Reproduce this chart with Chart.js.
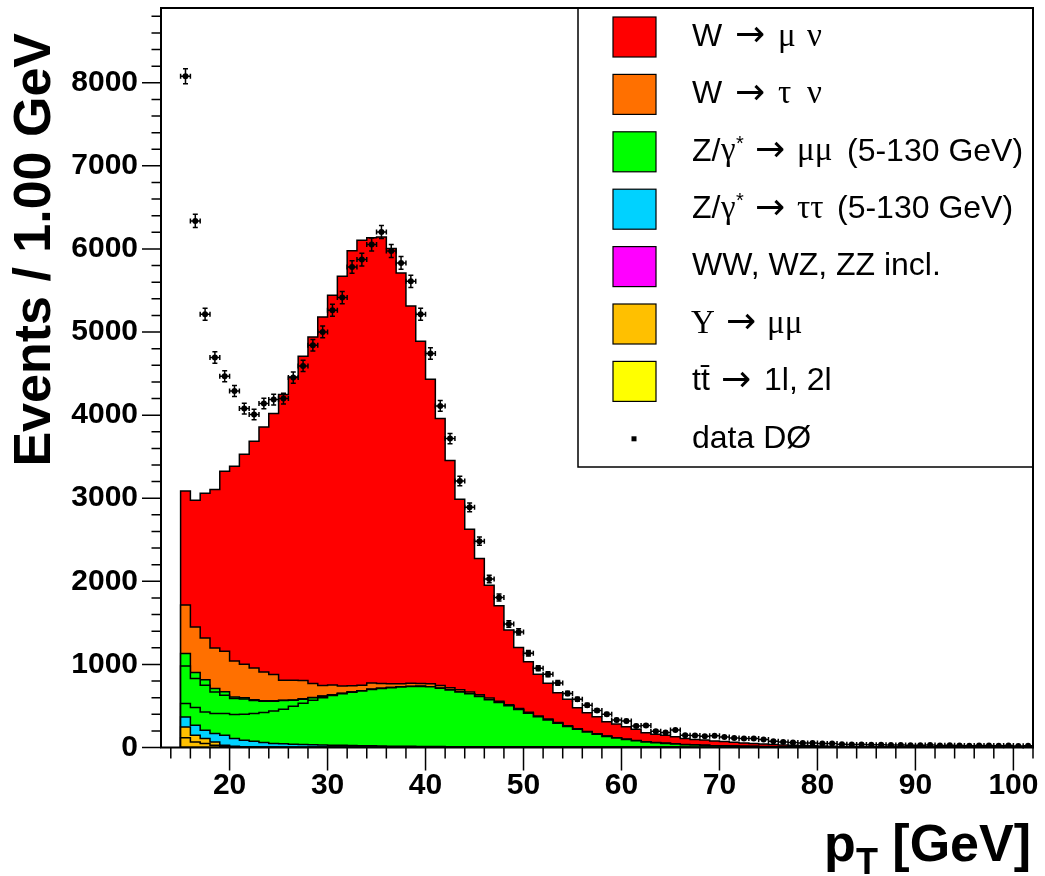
<!DOCTYPE html>
<html><head><meta charset="utf-8">
<script src="https://cdn.jsdelivr.net/npm/chart.js@4.4.0/dist/chart.umd.min.js"></script>
<style>html,body{margin:0;padding:0;background:#fff}canvas{display:block}</style>
</head><body>
<canvas id="c" width="1045" height="876"></canvas>
<script>
// ---- data (bins of 1 GeV, low edges 15..101), rows of 10 bins ----
const binLowEdges = [15,16,17,18,19,20,21,22,23,24,
  25,26,27,28,29,30,31,32,33,34,
  35,36,37,38,39,40,41,42,43,44,
  45,46,47,48,49,50,51,52,53,54,
  55,56,57,58,59,60,61,62,63,64,
  65,66,67,68,69,70,71,72,73,74,
  75,76,77,78,79,80,81,82,83,84,
  85,86,87,88,89,90,91,92,93,94,
  95,96,97,98,99,100,101];
const binWidth = 1;

const ttbar = [0,0,0,0,0,0,0,0,0,0,
  0,0,0,1,1,1,1,1,1,1,
  1,1,1,1,1,1,1,1,1,1,
  1,1,1,1,1,1,1,1,1,1,
  1,1,1,1,1,1,1,1,1,1,
  1,0,0,0,0,0,0,0,0,0,
  0,0,0,0,0,0,0,0,0,0,
  0,0,0,0,0,0,0,0,0,0,
  0,0,0,0,0,0,0];
const diboson = [0,0,0,0,0,0,0,1,1,1,
  1,1,1,1,1,1,1,1,1,1,
  1,1,1,1,1,1,1,1,1,1,
  1,1,1,1,1,1,1,1,1,1,
  1,1,1,1,1,1,1,1,1,1,
  1,1,1,1,1,1,0,0,0,0,
  0,0,0,0,0,0,0,0,0,0,
  0,0,0,0,0,0,0,0,0,0,
  0,0,0,0,0,0,0];
const upsilonA = [116,67,48,28,16,8,5,3,2,2,
  1,1,0,0,0,0,0,0,0,0,
  0,0,0,0,0,0,0,0,0,0,
  0,0,0,0,0,0,0,0,0,0,
  0,0,0,0,0,0,0,0,0,0,
  0,0,0,0,0,0,0,0,0,0,
  0,0,0,0,0,0,0,0,0,0,
  0,0,0,0,0,0,0,0,0,0,
  0,0,0,0,0,0,0];
const upsilonB = [132,81,60,39,12,8,5,4,3,2,
  2,2,1,1,1,1,1,1,1,1,
  0,0,0,0,0,0,0,0,0,0,
  0,0,0,0,0,0,0,0,0,0,
  0,0,0,0,0,0,0,0,0,0,
  0,0,0,0,0,0,0,0,0,0,
  0,0,0,0,0,0,0,0,0,0,
  0,0,0,0,0,0,0,0,0,0,
  0,0,0,0,0,0,0];
const zTauTau = [120,120,100,101,120,92,78,68,54,43,
  40,36,33,30,27,24,23,21,19,17,
  15,13,13,12,11,10,9,8,7,7,
  6,5,5,4,4,3,3,3,2,2,
  2,2,2,1,1,1,1,1,1,1,
  1,1,0,0,0,0,0,0,0,0,
  0,0,0,0,0,0,0,0,0,0,
  0,0,0,0,0,0,0,0,0,0,
  0,0,0,0,0,0,0];
const zMuMuA = [161,213,220,241,261,289,312,334,360,392,
  416,455,499,537,570,598,620,640,657,679,
  693,705,714,720,722,719,702,681,660,637,
  605,569,534,495,450,406,364,327,287,249,
  216,184,155,130,110,92,77,64,54,45,
  38,32,28,24,20,17,15,13,11,10,
  9,8,7,6,5,5,4,4,3,3,
  3,2,2,2,2,2,2,2,1,1,
  1,1,1,1,1,1,1];
const zMuMuB = [453,349,322,260,220,193,185,155,136,116,
  105,73,48,30,17,8,5,3,2,1,
  1,1,1,1,1,1,1,0,0,0,
  0,0,0,0,0,0,0,0,0,0,
  0,0,0,0,0,0,0,0,0,0,
  0,0,0,0,0,0,0,0,0,0,
  0,0,0,0,0,0,0,0,0,0,
  0,0,0,0,0,0,0,0,0,0,
  0,0,0,0,0,0,0];
const zMuMuC = [149,72,64,41,43,19,13,9,7,6,
  5,4,4,3,2,2,2,1,1,1,
  1,1,0,0,0,0,0,0,0,0,
  0,0,0,0,0,0,0,0,0,0,
  0,0,0,0,0,0,0,0,0,0,
  0,0,0,0,0,0,0,0,0,0,
  0,0,0,0,0,0,0,0,0,0,
  0,0,0,0,0,0,0,0,0,0,
  0,0,0,0,0,0,0];
const wTauNu = [585,549,505,489,487,433,404,384,347,316,
  240,236,219,167,126,117,88,75,67,75,
  58,46,36,38,35,34,32,28,26,23,
  21,19,17,15,14,12,11,10,9,8,
  7,6,5,4,4,3,3,2,2,2,
  2,2,2,1,1,1,1,1,1,1,
  1,1,1,1,1,1,1,1,1,1,
  1,1,1,1,1,1,1,1,1,1,
  1,1,1,1,1,1,1];
const wMuNu = [1370,1525,1741,1907,2166,2343,2528,2728,2948,3141,
  3438,3652,3903,4171,4437,4691,4931,5234,5357,5358,
  5375,5237,4946,4542,4119,3667,3214,2736,2294,1959,
  1641,1359,1147,897,734,608,503,430,358,321,
  252,224,206,172,165,152,136,109,99,96,
  87,73,66,63,55,52,48,41,36,31,
  26,22,19,16,14,11,10,8,7,6,
  5,5,5,4,4,3,3,2,3,3,
  2,2,2,1,1,1,1];
const dataD0 = [8078,6337,5214,4693,4468,4291,4079,4007,4140,4188,
  4200,4452,4592,4841,5001,5262,5415,5783,5872,6053,
  6205,5976,5832,5610,5214,4741,4111,3718,3208,2890,
  2483,2029,1805,1487,1391,1135,954,882,777,650,
  581,509,445,401,332,320,260,265,196,180,
  212,148,144,136,140,126,114,108,108,96,
  76,67,60,55,55,48,48,40,36,35,
  33,32,30,31,28,27,29,25,26,24,
  22,25,23,20,24,18,20];

const yTickLabels = [0,1000,2000,3000,4000,5000,6000,7000,8000];
const xTickLabels = [20,30,40,50,60,70,80,90,100];

const legendColors = ['#FF0000','#FF7000','#00FF00','#00D2FF','#FF00FF','#FFC000','#FFFF00', null];
// runs: [text, font kind, x start]
const legendLabels = [
  [['W','s',692],['\u2192','a',735],['\u03BC','g',778],['\u03BD','g',807]],
  [['W','s',692],['\u2192','a',735],['\u03C4','g',778],['\u03BD','g',807]],
  [['Z/','s',692],['\u03B3','g',721],['*','sup',736],['\u2192','a',755],['\u03BC\u03BC','g',797],['(5-130 GeV)','s',847]],
  [['Z/','s',692],['\u03B3','g',721],['*','sup',736],['\u2192','a',755],['\u03C4\u03C4','g',797],['(5-130 GeV)','s',837]],
  [['WW, WZ, ZZ incl.','s',692]],
  [['\u03A5','g',691],['\u2192','a',726],['\u03BC\u03BC','g',767]],
  [['tt\u0304','s',692],['\u2192','a',721],['1l, 2l','s',764]],
  [['data D\u00D8','s',692]]
];

// ---- build stacked (cumulative) step histograms ----
const N = binLowEdges.length;
const layers = [
  {name: 'ttbar', data: ttbar, color: '#FFFF00'},
  {name: 'diboson', data: diboson, color: '#FF00FF'},
  {name: 'upsilonA', data: upsilonA, color: '#FFC000'},
  {name: 'upsilonB', data: upsilonB, color: '#FFC000'},
  {name: 'zTauTau', data: zTauTau, color: '#00D2FF'},
  {name: 'zMuMuA', data: zMuMuA, color: '#00FF00'},
  {name: 'zMuMuB', data: zMuMuB, color: '#00FF00'},
  {name: 'zMuMuC', data: zMuMuC, color: '#00FF00'},
  {name: 'wTauNu', data: wTauNu, color: '#FF7000'},
  {name: 'wMuNu', data: wMuNu, color: '#FF0000'}
];

let cum = new Array(N).fill(0);
const datasets = [];
layers.forEach((L, i) => {
  cum = cum.map((c, k) => c + (L.data[k] || 0));
  const pts = [{x: binLowEdges[0], y: 0}];
  for (let k = 0; k < N; k++) {
    pts.push({x: binLowEdges[k], y: cum[k]});
    pts.push({x: binLowEdges[k] + binWidth, y: cum[k]});
  }
  pts.push({x: binLowEdges[N-1] + binWidth, y: 0});
  datasets.push({type: 'line', label: L.name, data: pts, borderColor: '#000', borderWidth: 1.5,
    backgroundColor: L.color, fill: 'origin', pointRadius: 0, tension: 0, order: i + 1});
});
datasets.push({type: 'scatter', label: 'data', data: dataD0.map((v, k) => ({x: binLowEdges[k] + binWidth / 2, y: v})),
  pointRadius: 3, pointStyle: 'circle', backgroundColor: '#000', borderColor: '#000', borderWidth: 0, order: 0, showLine: false});

const SANS = '"Liberation Sans", Arial, Helvetica, sans-serif';
const SERIF = '"Liberation Serif", "DejaVu Serif", serif';
const ARROW = '"DejaVu Sans", sans-serif';

const rootStyle = {
  id: 'rootStyle',
  afterDatasetsDraw(chart) {
    const ctx = chart.ctx, xs = chart.scales.x, ys = chart.scales.y;
    ctx.save();
    ctx.strokeStyle = '#000'; ctx.lineWidth = 1.5;
    ctx.beginPath();
    dataD0.forEach((v, k) => {
      const c = binLowEdges[k] + binWidth / 2, e = Math.sqrt(v);
      const px = xs.getPixelForValue(c), py = ys.getPixelForValue(v);
      const x0 = xs.getPixelForValue(c - binWidth / 2), x1 = xs.getPixelForValue(c + binWidth / 2);
      const y0 = ys.getPixelForValue(v - e), y1 = ys.getPixelForValue(v + e);
      ctx.moveTo(x0, py); ctx.lineTo(x1, py);
      ctx.moveTo(x0, py - 2.5); ctx.lineTo(x0, py + 2.5);
      ctx.moveTo(x1, py - 2.5); ctx.lineTo(x1, py + 2.5);
      ctx.moveTo(px, y0); ctx.lineTo(px, y1);
      ctx.moveTo(px - 2.5, y0); ctx.lineTo(px + 2.5, y0);
      ctx.moveTo(px - 2.5, y1); ctx.lineTo(px + 2.5, y1);
    });
    ctx.stroke();
    ctx.restore();
  },
  afterDraw(chart) {
    const ctx = chart.ctx, xs = chart.scales.x, ys = chart.scales.y, a = chart.chartArea;
    ctx.save();
    // legend
    const lx = 578, ly = a.top, lw = a.right - 578, lh = 459;
    ctx.fillStyle = '#fff'; ctx.fillRect(lx, ly, lw, lh);
    ctx.strokeStyle = '#000'; ctx.lineWidth = 1.5; ctx.strokeRect(lx, ly, lw, lh);
    legendLabels.forEach((runs, i) => {
      const cy = 37 + i * 57.4;
      if (legendColors[i]) {
        ctx.fillStyle = legendColors[i];
        ctx.fillRect(613, cy - 20, 43, 40);
        ctx.strokeStyle = '#000'; ctx.lineWidth = 1.2; ctx.strokeRect(613, cy - 20, 43, 40);
      } else {
        ctx.fillStyle = '#000'; ctx.fillRect(631.5, cy - 2.5, 5, 5);
      }
      ctx.fillStyle = '#000';
      runs.forEach(([t, f, x]) => {
        if (f === 'sup') {
          ctx.font = '20px ' + SANS; ctx.textBaseline = 'alphabetic';
          ctx.fillText(t, x, cy - 2);
        } else {
          ctx.font = (f === 'g' ? '33px ' + SERIF : f === 'a' ? '36px ' + ARROW : '32px ' + SANS);
          ctx.textBaseline = 'middle';
          ctx.fillText(t, x, cy);
        }
      });
    });
    // frame
    ctx.strokeStyle = '#000'; ctx.lineWidth = 2;
    ctx.strokeRect(a.left, a.top, a.right - a.left, a.bottom - a.top);
    // ticks
    ctx.lineWidth = 1.5;
    ctx.beginPath();
    for (let v = 0; v <= ys.max; v += 200) {
      const p = ys.getPixelForValue(v);
      const len = (v % 1000 === 0) ? 19 : 9.5;
      ctx.moveTo(a.left - len, p); ctx.lineTo(a.left, p);
    }
    for (let v = Math.ceil(xs.min / 2) * 2; v <= xs.max; v += 2) {
      const p = xs.getPixelForValue(v);
      const len = (v % 10 === 0) ? 23 : 11;
      ctx.moveTo(p, a.bottom); ctx.lineTo(p, a.bottom + len);
    }
    ctx.stroke();
    // axis titles
    ctx.fillStyle = '#000';
    ctx.save();
    ctx.translate(50, 33); ctx.rotate(-Math.PI / 2);
    ctx.font = 'bold 52px ' + SANS; ctx.textAlign = 'right'; ctx.textBaseline = 'alphabetic';
    ctx.fillText('Events / 1.00 GeV', 0, 0);
    ctx.restore();
    ctx.textBaseline = 'alphabetic'; ctx.textAlign = 'left';
    ctx.font = 'bold 52px ' + SANS; const wp = ctx.measureText('p').width, wr = ctx.measureText(' [GeV]').width;
    ctx.font = 'bold 36px ' + SANS; const wt = ctx.measureText('T').width;
    let x0 = 1031 - wp - wt - wr;
    ctx.font = 'bold 52px ' + SANS; ctx.fillText('p', x0, 861);
    ctx.font = 'bold 36px ' + SANS; ctx.fillText('T', x0 + wp, 874);
    ctx.font = 'bold 52px ' + SANS; ctx.fillText(' [GeV]', x0 + wp + wt, 861);
    ctx.restore();
  }
};

const zeroPad = s => { s.paddingTop = 0; s.paddingBottom = 0; s.paddingLeft = 0; s.paddingRight = 0; };
const tickFont = {family: SANS, size: 30, weight: 'bold'};
new Chart(document.getElementById('c'), {
  type: 'line',
  data: {datasets},
  options: {
    responsive: false, animation: false, devicePixelRatio: 1,
    layout: {padding: {top: 8, right: 12, left: 0, bottom: 0}},
    plugins: {legend: {display: false}, tooltip: {enabled: false}},
    scales: {
      x: {type: 'linear', min: 13, max: 102, position: 'bottom',
          grid: {display: false, drawTicks: false}, border: {display: false},
          afterBuildTicks: s => { s.ticks = xTickLabels.map(v => ({value: v})); },
          ticks: {autoSkip: false, maxRotation: 0, padding: 20, color: '#000', font: tickFont, callback: v => String(v)},
          afterFit: s => { s.height = 128.5; zeroPad(s); }},
      y: {type: 'linear', min: 0, max: 8900,
          grid: {display: false, drawTicks: false}, border: {display: false},
          afterBuildTicks: s => { s.ticks = yTickLabels.map(v => ({value: v})); },
          ticks: {padding: 23, color: '#000', font: tickFont, callback: v => String(v)},
          afterFit: s => { s.width = 161; zeroPad(s); }}
    }
  },
  plugins: [rootStyle]
});
</script>
</body></html>
